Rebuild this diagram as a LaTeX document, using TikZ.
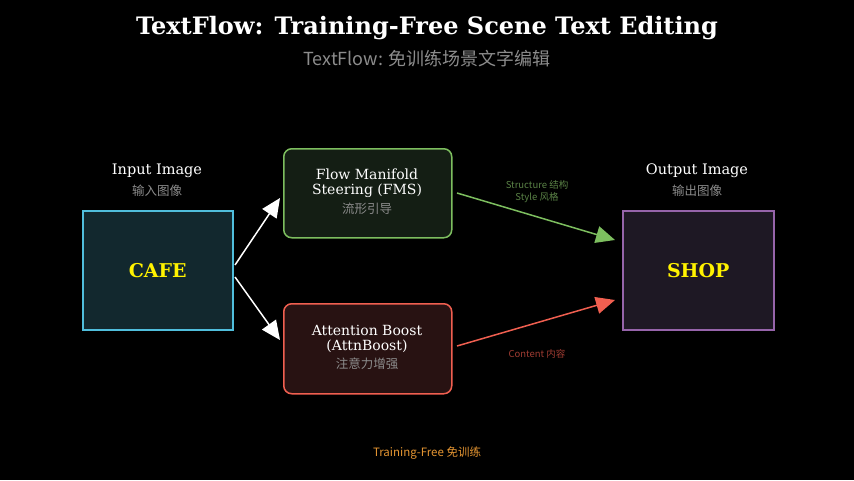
\documentclass[tikz,border=0pt]{standalone}
\usepackage{fontspec}
\setmainfont{DejaVu Serif}
\newfontfamily\cjk{Noto Sans CJK SC}
\usetikzlibrary{arrows.meta}
\definecolor{inE}{RGB}{80,190,220}\definecolor{inF}{RGB}{18,40,46}
\definecolor{outE}{RGB}{150,100,170}\definecolor{outF}{RGB}{30,24,36}
\definecolor{gE}{RGB}{125,190,95}\definecolor{gF}{RGB}{20,30,20}
\definecolor{rE}{RGB}{240,95,80}\definecolor{rF}{RGB}{40,18,18}
\definecolor{gT}{RGB}{90,130,70}\definecolor{rT}{RGB}{160,60,50}
\definecolor{oT}{RGB}{230,150,50}\definecolor{sT}{RGB}{140,140,140}
\begin{document}
\begin{tikzpicture}[x=1pt,y=-1pt,
 lab/.style={text=white,font=\fontsize{14.5}{15}\selectfont,align=center},
 sub/.style={text=sT,font=\cjk\fontsize{12.5}{13}\selectfont},
 arr/.style={line width=1.5pt,-{Triangle[length=19pt,width=17pt]}},
 al/.style={font=\cjk\fontsize{9.5}{12}\selectfont,align=center}]
\fill[black] (0,0) rectangle (854,480);
\node[text=white,font=\bfseries\fontsize{24}{26}\selectfont] (t) at (427,28) {TextFlow: Training-Free Scene Text Editing};
\node[text=sT,font=\cjk\fontsize{18}{20}\selectfont] (st) at (427,59) {TextFlow: 免训练场景文字编辑};
\node[draw=inE,fill=inF,line width=1.5pt,minimum width=150pt,minimum height=119pt,anchor=north west] (in) at (82,210) {};
\node[text=yellow,font=\bfseries\fontsize{19}{21}\selectfont] at (in.center) {CAFE};
\node[lab] (il) at (157,171) {Input Image};
\node[sub] (ils) at (157,191) {输入图像};
\node[draw=outE,fill=outF,line width=1.5pt,minimum width=151pt,minimum height=119pt,anchor=north west] (out) at (622,210) {};
\node[text=yellow,font=\bfseries\fontsize{19}{21}\selectfont] at (out.center) {SHOP};
\node[lab] (ol) at (697,171) {Output Image};
\node[sub] (ols) at (697,191) {输出图像};
\node[draw=gE,fill=gF,line width=1.5pt,rounded corners=8pt,minimum width=168pt,minimum height=89pt,anchor=north west] (fms) at (283,148) {};
\node[lab,font=\fontsize{14}{15}\selectfont] at (367,183) {Flow Manifold\\Steering (FMS)};
\node[sub] at (367,209) {流形引导};
\node[draw=rE,fill=rF,line width=1.5pt,rounded corners=8pt,minimum width=168pt,minimum height=90pt,anchor=north west] (att) at (283,303) {};
\node[lab,font=\fontsize{14}{15}\selectfont] at (367,339) {Attention Boost\\(AttnBoost)};
\node[sub] at (367,364) {注意力增强};
\coordinate (a1) at (235,265); \coordinate (a2) at (235,277);
\coordinate (f1) at (280,198); \coordinate (f2) at (280,340);
\draw[arr,white] (a1) -- (f1);
\draw[arr,white] (a2) -- (f2);
\coordinate (g0) at (457,193); \coordinate (g1) at (615,240);
\coordinate (r0) at (457,346); \coordinate (r1) at (615,300);
\draw[arr,gE] (g0) -- (g1);
\draw[arr,rE] (r0) -- (r1);
\node[al,text=gT] at (537,192) {Structure 结构\\Style 风格};
\node[al,text=rT] at (537,354) {Content 内容};
\node[font=\cjk\fontsize{11.5}{12}\selectfont,text=oT] (tf) at (427,453) {Training-Free 免训练};
\end{tikzpicture}
\end{document}
